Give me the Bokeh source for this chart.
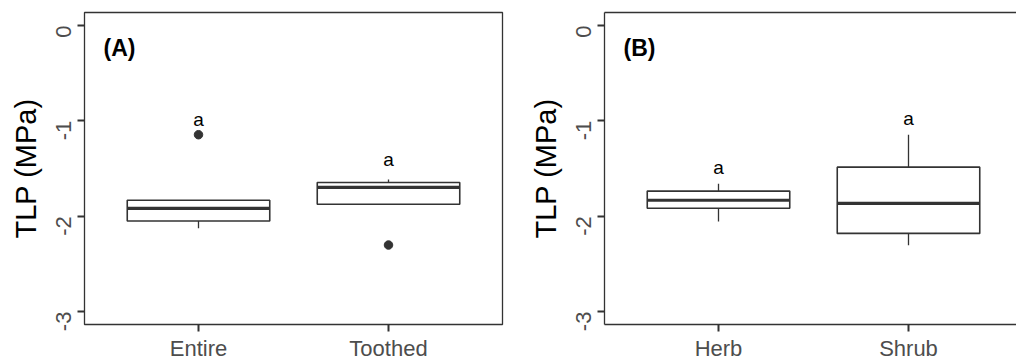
from bokeh.plotting import figure
from bokeh.layouts import row
from bokeh.models import Range1d, FixedTicker, LinearAxis, ColumnDataSource
from bokeh.embed import file_html
from bokeh.resources import INLINE
from bokeh.core.properties import value
import math

# ---- data ----
cats_a = ["Entire", "Toothed"]
q1_a = [-2.05, -1.875]
med_a = [-1.917, -1.698]
q3_a = [-1.833, -1.646]
lo_a = [-2.125, -1.875]
hi_a = [-1.833, -1.615]
out_cat_a = ["Entire", "Toothed"]
out_val_a = [-1.146, -2.302]
letters_a = ["a", "a"]
letter_y_a = [-0.99, -1.41]

cats_b = ["Herb", "Shrub"]
q1_b = [-1.917, -2.18]
med_b = [-1.833, -1.865]
q3_b = [-1.737, -1.486]
lo_b = [-2.055, -2.305]
hi_b = [-1.66, -1.146]
out_cat_b = []
out_val_b = []
letters_b = ["a", "a"]
letter_y_b = [-1.49, -0.98]

y_ticks = [0, -1, -2, -3]
panel_tags = ["(A)", "(B)"]

FONT = "Liberation Sans"
DARK = "#333333"
BOXW = 0.75


def make_panel(tag, cats, q1, med, q3, lo, hi, out_cat, out_val, letters, letter_y,
               xmax, left, right, width, full_outline):
    p = figure(width=width, height=363, output_backend="svg", toolbar_location=None,
               x_range=Range1d(0.4, xmax), y_range=Range1d(-3.135, 0.135),
               min_border_left=left, min_border_right=right,
               min_border_top=12, min_border_bottom=37)
    p.xgrid.grid_line_color = None
    p.ygrid.grid_line_color = None
    p.background_fill_color = "white"

    xs = [i + 1 for i in range(len(cats))]
    pos = {c: i + 1 for i, c in enumerate(cats)}

    src = ColumnDataSource(dict(
        x=xs, q1=q1, med=med, q3=q3, lo=lo, hi=hi,
        xl=[x - BOXW / 2 for x in xs], xr=[x + BOXW / 2 for x in xs]))

    # whiskers
    p.segment(x0="x", y0="q3", x1="x", y1="hi", source=src, line_color=DARK, line_width=1.3)
    p.segment(x0="x", y0="q1", x1="x", y1="lo", source=src, line_color=DARK, line_width=1.3)
    # boxes
    p.vbar(x="x", width=BOXW, bottom="q1", top="q3", source=src,
           fill_color="white", line_color=DARK, line_width=1.6)
    # medians
    p.segment(x0="xl", y0="med", x1="xr", y1="med", source=src, line_color=DARK, line_width=3.2)
    # outliers
    if out_cat:
        p.scatter(x=[pos[c] for c in out_cat], y=out_val, size=8.5,
                  fill_color=DARK, line_color=DARK)
    # letters
    p.text(x=xs, y=letter_y, text=letters, text_font=value(FONT),
           text_font_size="19px", text_align="center", text_baseline="alphabetic",
           text_color="black")
    # panel tag
    p.text(x=[0.5], y=[-0.24], text=[tag], text_font=value(FONT), text_font_style="bold",
           text_font_size="23px", text_align="left", text_baseline="middle",
           text_color="black")

    xax = p.below[0]
    yax = p.left[0]
    for ax in (xax, yax):
        ax.axis_line_color = None if full_outline else DARK
        ax.axis_line_width = 1.3
        ax.major_tick_line_color = DARK
        ax.major_tick_line_width = 2
        ax.major_tick_out = 7
        ax.major_tick_in = 0
        ax.minor_tick_line_color = None
        ax.major_label_text_font = FONT
        ax.major_label_text_color = "#4D4D4D"
        ax.major_label_text_font_size = "22px"

    xax.ticker = FixedTicker(ticks=xs)
    xax.major_label_overrides = {x: c for x, c in zip(xs, cats)}
    xax.major_label_standoff = 4

    yax.ticker = FixedTicker(ticks=y_ticks)
    yax.major_label_overrides = {t: str(t) for t in y_ticks}
    yax.major_label_orientation = math.pi / 2
    yax.major_label_standoff = 14
    yax.axis_label = "TLP (MPa)"
    yax.axis_label_text_font = FONT
    yax.axis_label_text_font_size = "29px"
    yax.axis_label_text_font_style = "normal"
    yax.axis_label_text_color = "black"
    yax.axis_label_standoff = 4

    if full_outline:
        p.outline_line_color = DARK
        p.outline_line_width = 1.3
    else:
        p.outline_line_color = None
        top = LinearAxis(ticker=FixedTicker(ticks=[]), major_label_text_font_size="0px",
                         axis_line_color=DARK, axis_line_width=1.3,
                         major_tick_line_color=None, minor_tick_line_color=None,
                         major_tick_out=0, major_tick_in=0, major_label_standoff=0)
        p.add_layout(top, "above")
    return p


pa = make_panel(panel_tags[0], cats_a, q1_a, med_a, q3_a, lo_a, hi_a, out_cat_a, out_val_a,
                letters_a, letter_y_a, 2.6, 84, 6, 508, True)
pb = make_panel(panel_tags[1], cats_b, q1_b, med_b, q3_b, lo_b, hi_b, out_cat_b, out_val_b,
                letters_b, letter_y_b, 0.4 + 412 / 190, 96, 0, 508, False)

layout = row(pa, pb)
open("out.html", "w").write(file_html(layout, INLINE))
